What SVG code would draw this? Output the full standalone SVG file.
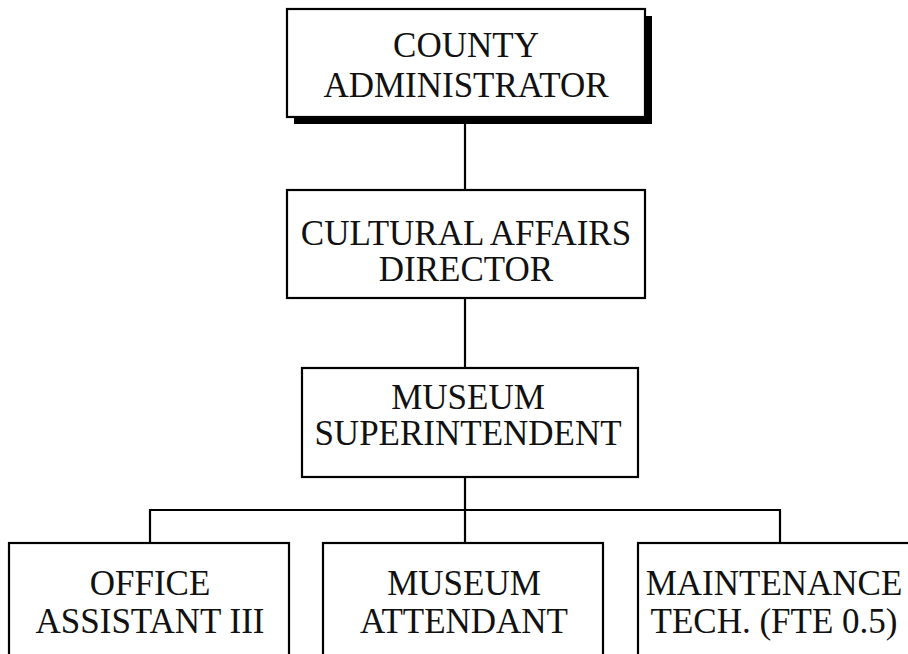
<svg xmlns="http://www.w3.org/2000/svg" width="908" height="654" viewBox="0 0 908 654">
  <style>
    .box { fill: #ffffff; stroke: #000000; stroke-width: 2.2; }
    .shadow { fill: #000000; }
    .lbl { font-family: "Liberation Serif", "Times New Roman", serif; font-size: 35px; fill: #111111; text-anchor: middle; }
    .link { stroke: #000000; stroke-width: 2.2; fill: none; }
  </style>
  <rect x="0" y="0" width="908" height="654" fill="#ffffff"/>

  <g id="connectors">
    <line class="link" x1="465" y1="124" x2="465" y2="190"/>
    <line class="link" x1="465" y1="298" x2="465" y2="368"/>
    <line class="link" x1="465" y1="477" x2="465" y2="543"/>
    <polyline class="link" points="150,543 150,510 780,510 780,543"/>
  </g>

  <g id="county-administrator">
    <rect class="shadow" x="294" y="16" width="358" height="108"/>
    <rect class="box" x="287" y="9" width="358" height="108"/>
    <text class="lbl" x="466" y="57">COUNTY</text>
    <text class="lbl" x="466" y="97">ADMINISTRATOR</text>
  </g>

  <g id="cultural-affairs-director">
    <rect class="box" x="287" y="190" width="358" height="108"/>
    <text class="lbl" x="466" y="245">CULTURAL AFFAIRS</text>
    <text class="lbl" x="466" y="281">DIRECTOR</text>
  </g>

  <g id="museum-superintendent">
    <rect class="box" x="302" y="368" width="336" height="109"/>
    <text class="lbl" x="468" y="409">MUSEUM</text>
    <text class="lbl" x="468" y="445">SUPERINTENDENT</text>
  </g>

  <g id="office-assistant">
    <rect class="box" x="9" y="543" width="280" height="120"/>
    <text class="lbl" x="150" y="595">OFFICE</text>
    <text class="lbl" x="150" y="633">ASSISTANT III</text>
  </g>

  <g id="museum-attendant">
    <rect class="box" x="323" y="543" width="280" height="120"/>
    <text class="lbl" x="464" y="595">MUSEUM</text>
    <text class="lbl" x="464" y="633">ATTENDANT</text>
  </g>

  <g id="maintenance-tech">
    <rect class="box" x="638" y="543" width="280" height="120"/>
    <text class="lbl" x="774" y="595">MAINTENANCE</text>
    <text class="lbl" x="774" y="633">TECH. (FTE 0.5)</text>
  </g>
</svg>
